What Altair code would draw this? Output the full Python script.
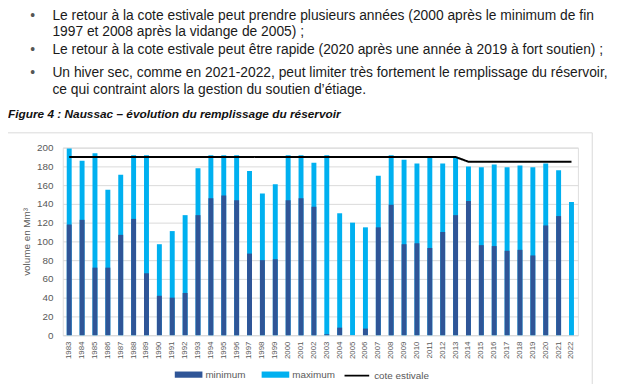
import altair as alt
import pandas as pd

# ---------------- data ----------------
years = [str(y) for y in range(1983, 2023)]
minimum = [118, 123, 72, 72, 107, 124, 66, 42, 40, 45,
           128, 146, 149, 144, 87, 80, 81, 144, 146, 137,
           1, 8, 0, 7, 115, 139, 97, 98, 93, 110,
           128, 143, 96, 95, 90, 91, 85, 117, 127, 0]
maximum = [199, 186, 194, 155, 171, 192, 192, 97, 111, 128,
           178, 192, 192, 192, 175, 151, 161, 192, 192, 184,
           192, 130, 120, 115, 170, 192, 187, 183, 190, 183,
           190, 180, 179, 182, 179, 181, 179, 183, 176, 142]
cote = [190, 190, 190, 190, 190, 190, 190, 190, 190, 190,
        190, 190, 190, 190, 190, 190, 190, 190, 190, 190,
        190, 190, 190, 190, 190, 190, 190, 190, 190, 190,
        190, 185, 185, 185, 185, 185, 185, 185, 185, 185]
y_ticks = [0, 20, 40, 60, 80, 100, 120, 140, 160, 180, 200]

bullet_lines = [
    "Le retour à la cote estivale peut prendre plusieurs années (2000 après le minimum de fin",
    "1997 et 2008 après la vidange de 2005) ;",
    "Le retour à la cote estivale peut être rapide (2020 après une année à 2019 à fort soutien) ;",
    "Un hiver sec, comme en 2021-2022, peut limiter très fortement le remplissage du réservoir,",
    "ce qui contraint alors la gestion du soutien d’étiage.",
]
bullet_first = [True, False, True, True, False]
caption = "Figure 4 : Naussac – évolution du remplissage du réservoir"

# ---------------- layout ----------------
W, H = 522, 190
PL, PT = 55.5, 139
FONT = "Liberation Sans"
DARK, LIGHT = "#2F5597", "#00B0F0"
GREY = "#595959"

bars_df = pd.DataFrame({
    "year": years + years,
    "series": ["maximum"] * len(years) + ["minimum"] * len(years),
    "value": maximum + minimum,
})
line_df = pd.DataFrame({"year": years, "value": cote, "s": ["cote estivale"] * len(years)})

x_axis = alt.Axis(title=None, labelAngle=270, labelFontSize=8, labelColor=GREY,
                  ticks=False, domainColor="#d9d9d9", labelPadding=6, labelFont=FONT)
y_axis = alt.Axis(values=y_ticks, tickCount=11, title="volume en Mm³", titleFontSize=10,
                  titleFontWeight="normal", titleColor=GREY, titlePadding=5,
                  labelFontSize=10, labelColor=GREY, labelPadding=10,
                  labelOverlap=False,
                  domain=False, ticks=False, gridColor="#d9d9d9", labelFont=FONT,
                  titleFont=FONT)
x_scale = alt.Scale(paddingInner=0, paddingOuter=0)
y_scale = alt.Scale(domain=[0, 200], nice=False)

bars = alt.Chart(bars_df).mark_bar(size=5).encode(
    x=alt.X("year:N", sort=years, scale=x_scale, axis=x_axis),
    y=alt.Y("value:Q", stack=None, scale=y_scale, axis=y_axis),
    color=alt.Color("series:N",
                    scale=alt.Scale(domain=["minimum", "maximum"], range=[DARK, LIGHT]),
                    legend=alt.Legend(orient="none", legendX=120.5, legendY=223,
                                      direction="horizontal", title=None,
                                      symbolType="M-2,-0.45H2V0.45H-2Z", symbolSize=196,
                                      symbolStrokeWidth=0, labelFontSize=10, labelColor=GREY,
                                      labelOffset=10, columnPadding=16, labelFont=FONT)),
)

line = alt.Chart(line_df).mark_line(color="black", strokeWidth=2).encode(
    x=alt.X("year:N", sort=years, scale=x_scale, axis=x_axis),
    y=alt.Y("value:Q", stack=None, scale=y_scale, axis=y_axis),
    strokeDash=alt.StrokeDash("s:N", scale=alt.Scale(domain=["cote estivale"], range=[[1, 0]]),
                              legend=alt.Legend(orient="none", legendX=284.5, legendY=217.5,
                                                title=None, symbolType="stroke", symbolSize=625,
                                                symbolStrokeColor="black", symbolStrokeWidth=2,
                                                labelOffset=4, labelFontSize=10,
                                                labelColor=GREY, labelFont=FONT)),
)

one = pd.DataFrame({"k": [0]})
frame = alt.Chart(one).mark_rect(fillOpacity=0, stroke="#d9d9d9", strokeWidth=1).encode(
    x=alt.value(-60.5), x2=alt.value(536.5), y=alt.value(-15), y2=alt.value(260))

page_y = [14, 30, 48, 71, 89]
text_layers = []
for txt, first, py in zip(bullet_lines, bullet_first, page_y):
    d = pd.DataFrame({"t": [txt]})
    text_layers.append(
        alt.Chart(d).mark_text(align="left", baseline="middle", font=FONT, fontSize=14,
                               color="#1a1a1a").encode(
            x=alt.value(53 - 8 - PL), y=alt.value(py - 8 - PT), text="t:N"))
    if first:
        text_layers.append(
            alt.Chart(one).mark_text(align="center", baseline="middle", font=FONT, fontSize=14,
                                     color="#555555", text="•").encode(
                x=alt.value(33 - 8 - PL), y=alt.value(py - 8 - PT)))

cap_df = pd.DataFrame({"t": [caption]})
cap = alt.Chart(cap_df).mark_text(align="left", baseline="middle", font=FONT, fontSize=12,
                                  fontWeight="bold", fontStyle="italic", color="#111111").encode(
    x=alt.value(8 - 8 - PL), y=alt.value(113 - 8 - PT), text="t:N")

chart = alt.layer(bars, line, frame, cap, *text_layers).properties(
    width=W, height=H,
    autosize=alt.AutoSizeParams(type="none"),
    padding={"left": PL, "top": PT, "right": 32.5, "bottom": 47},
).configure_view(stroke=None).configure(font=FONT)

chart.save("out.html", embed_options={"renderer": "svg", "actions": False})
